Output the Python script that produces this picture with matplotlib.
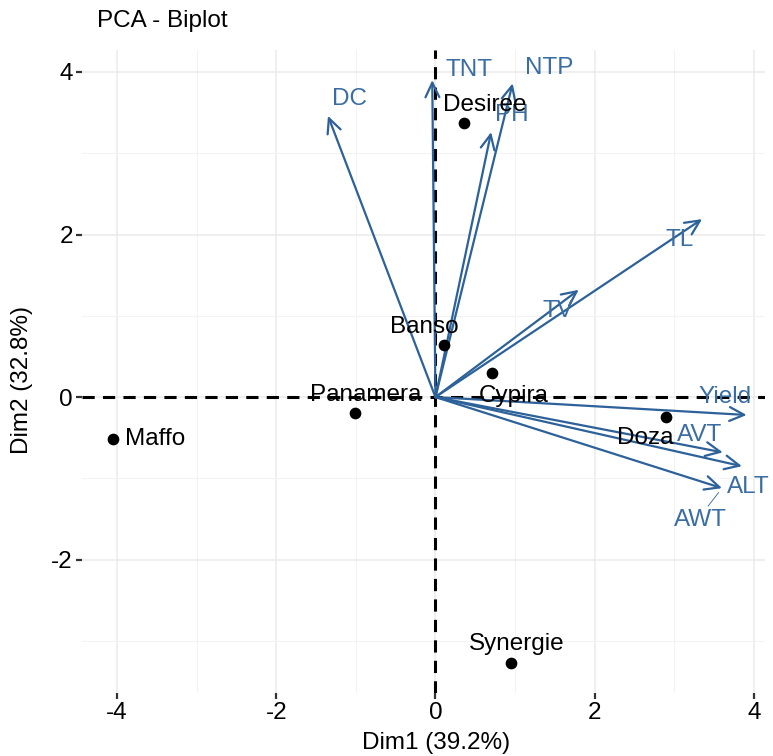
import matplotlib
matplotlib.use("Agg")
import matplotlib.pyplot as plt
import numpy as np

plt.rcParams['font.family'] = ['Liberation Sans', 'DejaVu Sans']
plt.rcParams['axes.unicode_minus'] = False

# individuals (PCA scores)
ind_names = ['Desiree', 'Banso', 'Cypira', 'Panamera', 'Maffo', 'Doza', 'Synergie']
ind_x = [0.36, 0.11, 0.71, -1.01, -4.05, 2.90, 0.95]
ind_y = [3.37, 0.64, 0.30, -0.20, -0.52, -0.25, -3.27]
# label offsets in pixels (repelled text)
ind_off = [(21, 18), (-20, 18), (22, -23), (11, 18), (42, 0), (-21, -21), (6, 19)]

# variables (loadings, scaled)
var_names = ['DC', 'TNT', 'NTP', 'PH', 'TL', 'TV', 'Yield', 'AVT', 'ALT', 'AWT']
var_x = [-1.35, -0.04, 0.97, 0.70, 3.35, 1.80, 3.91, 3.61, 3.85, 3.60]
var_y = [3.46, 3.90, 3.86, 3.26, 2.19, 1.32, -0.22, -0.68, -0.85, -1.12]
var_off = [(22, 17), (37, 10), (37, 15), (21, 17), (-22, -21), (-21, -21),
           (-22, 18), (-23, 17), (6, -21), (-22, -32)]

arrow_col = '#2D6199'
text_col = '#3A6DA3'
fs = 17.5

fig = plt.figure(figsize=(7.73, 7.56), dpi=100)
ax = fig.add_axes([82/773, 1 - 693/756, (765-82)/773, (693-50)/756])

ax.set_xlim(-4.44, 4.14)
ax.set_ylim(-3.64, 4.27)
ax.set_xticks([-4, -2, 0, 2, 4])
ax.set_yticks([-2, 0, 2, 4])
ax.set_xticks([-3, -1, 1, 3], minor=True)
ax.set_yticks([-3, -1, 1, 3], minor=True)
ax.grid(which='major', color='#EBEBEB', lw=1.1, zorder=0)
ax.grid(which='minor', color='#F3F3F3', lw=0.8, zorder=0)
for s in ax.spines.values():
    s.set_visible(False)
ax.tick_params(which='major', length=4.5, width=1.6, color='#333333',
               labelsize=fs, labelcolor='black', pad=2)
ax.tick_params(which='minor', length=0)
ax.set_axisbelow(True)

ax.axhline(0, color='black', lw=2.2, dashes=(4, 2.7), zorder=1)
ax.axvline(0, color='black', lw=2.2, dashes=(4, 2.7), zorder=1)

# variable arrows
for name, vx, vy, off in zip(var_names, var_x, var_y, var_off):
    ax.annotate('', xy=(vx, vy), xytext=(0, 0),
                arrowprops=dict(arrowstyle='->,head_length=1.05,head_width=0.5',
                                color=arrow_col, lw=1.6, shrinkA=0, shrinkB=0,
                                mutation_scale=10),
                zorder=2)
    ax.annotate(name, xy=(vx, vy), xytext=off, textcoords='offset pixels',
                ha='center', va='center', color=text_col, fontsize=fs, zorder=3)

# connector for AWT label
i = var_names.index('AWT')
ax.annotate('', xy=(var_x[i], var_y[i]), xytext=(-14, -18), textcoords='offset pixels',
            arrowprops=dict(arrowstyle='-', color=arrow_col, lw=0.6,
                            shrinkA=0, shrinkB=4), zorder=2)

# individuals
ax.scatter(ind_x, ind_y, s=55, color='black', zorder=4)
for name, px, py, off in zip(ind_names, ind_x, ind_y, ind_off):
    ax.annotate(name, xy=(px, py), xytext=off, textcoords='offset pixels',
                ha='center', va='center', color='black', fontsize=fs, zorder=5)

fig.text(97/773, 1 - 21/756, 'PCA - Biplot', ha='left', va='center', fontsize=fs)
fig.text(436/773, 1 - 743/756, 'Dim1 (39.2%)', ha='center', va='center', fontsize=fs)
fig.text(22/773, 1 - 380/756, 'Dim2 (32.8%)', ha='center', va='center',
         rotation=90, fontsize=fs)

fig.savefig('out.png', dpi=100)
